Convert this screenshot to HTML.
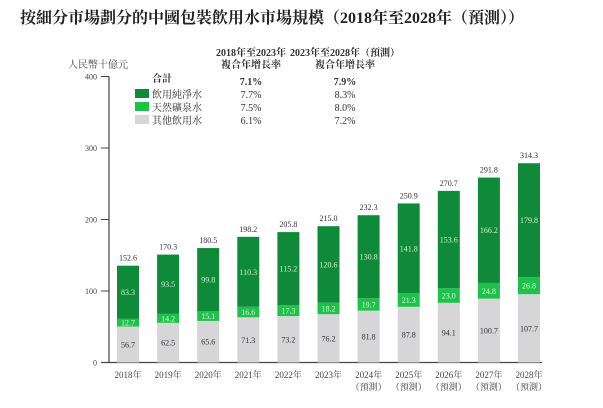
<!DOCTYPE html>
<html><head><meta charset="utf-8">
<style>
body{margin:0;background:#fff;}
svg{display:block;font-family:"Liberation Serif","Noto Serif CJK SC","Noto Sans CJK TC",serif;}
</style></head>
<body>
<svg id="chart" width="603" height="408" viewBox="0 0 603 408">
<text x="20" y="23" font-size="16" font-weight="bold" fill="#222">按細分市場劃分的中國包裝飲用水市場規模（2018年至2028年（預測））</text>
<text x="68" y="68" font-size="10" fill="#444">人民幣十億元</text>
<g font-size="10" fill="#333">
<text x="251" y="56" font-weight="bold" text-anchor="middle">2018年至2023年</text>
<text x="251" y="68" font-weight="bold" text-anchor="middle">複合年增長率</text>
<text x="345" y="56" font-weight="bold" text-anchor="middle">2023年至2028年（預測）</text>
<text x="345" y="68" font-weight="bold" text-anchor="middle">複合年增長率</text>
<text x="152" y="82" font-weight="bold">合計</text>
<text x="251" y="85" font-weight="bold" text-anchor="middle">7.1%</text>
<text x="345" y="85" font-weight="bold" text-anchor="middle">7.9%</text>
<g><rect x="135" y="89" width="14" height="9" fill="#0f8a38"/><text x="152" y="98">飲用純淨水</text><text x="251" y="98" text-anchor="middle">7.7%</text><text x="345" y="98" text-anchor="middle">8.3%</text></g>
<g><rect x="135" y="102" width="14" height="9" fill="#1ec24a"/><text x="152" y="111">天然礦泉水</text><text x="251" y="111" text-anchor="middle">7.5%</text><text x="345" y="111" text-anchor="middle">8.0%</text></g>
<g><rect x="135" y="115" width="14" height="9" fill="#d6d6d8"/><text x="152" y="124">其他飲用水</text><text x="251" y="124" text-anchor="middle">6.1%</text><text x="345" y="124" text-anchor="middle">7.2%</text></g>
</g>
<g id="axes"></g>
<g id="bars"></g>
</svg>
<script>
const categories=["2018年","2019年","2020年","2021年","2022年","2023年","2024年","2025年","2026年","2027年","2028年"];
const forecast=[false,false,false,false,false,false,true,true,true,true,true];
const otherVals=[56.7,62.5,65.6,71.3,73.2,76.2,81.8,87.8,94.1,100.7,107.7];
const mineralVals=[12.7,14.2,15.1,16.6,17.3,18.2,19.7,21.3,23.0,24.8,26.8];
const purifiedVals=[83.3,93.5,99.8,110.3,115.2,120.6,130.8,141.8,153.6,166.2,179.8];
const totals=[152.6,170.3,180.5,198.2,205.8,215.0,232.3,250.9,270.7,291.8,314.3];
const ticks=[0,100,200,300,400];
const NS="http://www.w3.org/2000/svg";
const y0=362.5;
function yAxis(v){return y0-v*0.715;}
function yBar(v){return y0-v*0.634;}
function xC(i){return 128+i*40.1;}
function mk(tag,attrs,parent,text){const e=document.createElementNS(NS,tag);for(const k in attrs)e.setAttribute(k,attrs[k]);if(text!==undefined)e.textContent=text;parent.appendChild(e);return e;}
const ax=document.getElementById('axes');
let l=mk('line',{x1:109,y1:yAxis(400),x2:109,y2:y0,stroke:'#444','stroke-width':1.2},ax);


l=mk('line',{x1:101,y1:y0,x2:542,y2:y0,stroke:'#444','stroke-width':1.2},ax);


ticks.forEach(t=>{
 const yy=yAxis(t);
 mk('line',{x1:101,y1:yy,x2:109,y2:yy,stroke:'#444','stroke-width':1},ax);
 const tx=mk('text',{x:97,y:yy+3,'font-size':8,'text-anchor':'end',fill:'#444'},ax,String(t));
 
 
});
const bg=document.getElementById('bars');
const w=22;
categories.forEach((c,i)=>{
 const x=xC(i)-w/2;
 const g=mk('g',{},bg);
 
 
 const a=otherVals[i],b=mineralVals[i],p=purifiedVals[i];
 mk('rect',{x:x,y:yBar(a),width:w,height:y0-yBar(a),fill:'#d6d6d8'},g);
 mk('rect',{x:x,y:yBar(a+b),width:w,height:yBar(a)-yBar(a+b),fill:'#1ec24a'},g);
 mk('rect',{x:x,y:yBar(a+b+p),width:w,height:yBar(a+b)-yBar(a+b+p),fill:'#0f8a38'},g);
 mk('text',{x:xC(i),y:(yBar(a)+y0)/2+3,'font-size':8,'text-anchor':'middle',fill:'#333'},g,a.toFixed(1));
 mk('text',{x:xC(i),y:(yBar(a)+yBar(a+b))/2+3,'font-size':8,'text-anchor':'middle',fill:'#d8f5dd'},g,b.toFixed(1));
 mk('text',{x:xC(i),y:(yBar(a+b)+yBar(a+b+p))/2+3,'font-size':8,'text-anchor':'middle',fill:'#cfeed6'},g,p.toFixed(1));
 mk('text',{x:xC(i),y:yBar(a+b+p)-5,'font-size':8,'text-anchor':'middle',fill:'#333'},g,totals[i].toFixed(1));
 const lb=mk('text',{x:xC(i),y:378,'font-size':9,'text-anchor':'middle',fill:'#444'},g,c);
 
 
 if(forecast[i]) mk('text',{x:xC(i),y:390,'font-size':9,'text-anchor':'middle',fill:'#444'},g,'（預測）');
});
</script>
</body></html>
